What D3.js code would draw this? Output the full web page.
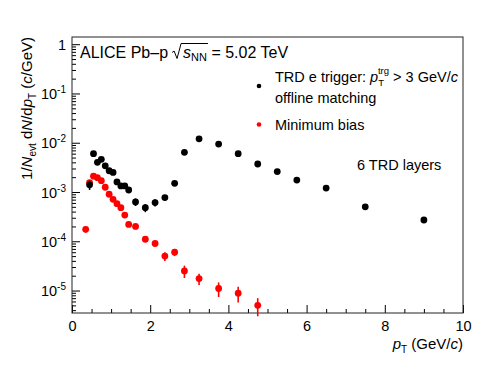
<!DOCTYPE html>
<html lang="en">
<head>
<meta charset="utf-8">
<title>TRD trigger spectra</title>
<script src="https://cdnjs.cloudflare.com/ajax/libs/d3/7.8.5/d3.min.js"></script>
<style>
body { margin: 0; background: #fff; }
svg text { font-family: "Liberation Sans", Arial, Helvetica, sans-serif; fill: #000; }
.axis path { display: none; }
.axis line { stroke: #000; }
</style>
</head>
<body>
<div id="chart"></div>
<script>

// TRD e trigger, offline matching (black)
var ptTrd = [0.45, 0.55, 0.65, 0.75, 0.85, 0.95, 1.05, 1.15, 1.25, 1.35, 1.45,
             1.625, 1.875, 2.125, 2.375, 2.625, 2.875, 3.25, 3.75, 4.25, 4.75,
             5.25, 5.75, 6.5, 7.5, 9]
var yTrd = [1.4e-3, 6.0e-3, 4.0e-3, 4.6e-3, 3.4e-3, 2.7e-3, 2.5e-3, 1.6e-3, 1.33e-3, 1.33e-3, 1.1e-3,
            6.3e-4, 4.8e-4, 6.1e-4, 7.7e-4, 1.5e-3, 6.4e-3, 1.2e-2, 9.4e-3, 6.0e-3, 3.7e-3,
            2.6e-3, 1.75e-3, 1.2e-3, 5.0e-4, 2.7e-4]
var errTrd = [3e-4, 3e-4, 2e-4, 2e-4, 1.5e-4, 1.5e-4, 1.5e-4, 1.5e-4, 1.8e-4, 1.8e-4, 1.6e-4,
              1.1e-4, 9e-5, 1e-4, 1e-4, 1e-4, 1e-4, 1.5e-4, 1.2e-4, 8e-5, 5e-5,
              4e-5, 3e-5, 2e-5, 1e-5, 6e-6]

// Minimum bias (red)
var ptMb = [0.35, 0.45, 0.55, 0.65, 0.75, 0.85, 0.95, 1.05, 1.15, 1.25, 1.35, 1.45,
            1.625, 1.875, 2.125, 2.375, 2.625, 2.875, 3.25, 3.75, 4.25, 4.75]
var yMb = [1.75e-4, 1.55e-3, 2.1e-3, 1.95e-3, 1.7e-3, 1.25e-3, 9.0e-4, 7.1e-4, 5.8e-4, 4.8e-4, 3.4e-4, 2.2e-4,
           2.0e-4, 1.1e-4, 9.0e-5, 5.0e-5, 6.0e-5, 2.5e-5, 1.75e-5, 1.1e-5, 8.8e-6, 5.0e-6]
var errMb = [2.5e-5, 6e-5, 6e-5, 6e-5, 5e-5, 4e-5, 3e-5, 3e-5, 2.5e-5, 2e-5, 1.6e-5, 1.2e-5,
             1.5e-5, 1.1e-5, 1e-5, 1e-5, 1e-5, 7e-6, 4.5e-6, 3.6e-6, 3.1e-6, 2e-6]

var xTicks = [0, 2, 4, 6, 8, 10]
var yTickExps = [0, -1, -2, -3, -4, -5]

var svgWidth = 498, svgHeight = 382
var frame = { left: 72, right: 463, top: 37, bottom: 313 }

var svg = d3.select('#chart').append('svg')
    .attr('width', svgWidth)
    .attr('height', svgHeight)

var x = d3.scaleLinear().domain([0, 10]).range([frame.left, frame.right])
var y = d3.scaleLog().domain([3.5e-6, 1.4]).range([frame.bottom, frame.top])

function drawAxes() {
    // minor x ticks every 0.5
    var xMinor = d3.range(0, 10.01, 0.5).filter(function(v) { return v % 2 != 0 })
    svg.append('g')
        .attr('class', 'axis')
        .attr('transform', 'translate(0,' + frame.bottom + ')')
        .call(d3.axisBottom(x).tickValues(xMinor).tickSizeInner(-4).tickSizeOuter(0).tickFormat(''))

    var xAxis = svg.append('g')
        .attr('class', 'axis')
        .attr('transform', 'translate(0,' + frame.bottom + ')')
        .call(d3.axisBottom(x).tickValues(xTicks).tickSizeInner(-8).tickSizeOuter(0).tickPadding(8))
    xAxis.selectAll('text').style('font-size', '14.5px')

    // log minor ticks
    var yMinor = []
    for (var k = -6; k <= 0; k++) {
        for (var m = 2; m <= 9; m++) {
            var v = m * Math.pow(10, k)
            if (v >= 3.5e-6 && v <= 1.4) yMinor.push(v)
        }
    }
    svg.append('g')
        .attr('class', 'axis')
        .attr('transform', 'translate(' + frame.left + ',0)')
        .call(d3.axisLeft(y).tickValues(yMinor).tickSizeInner(-4).tickSizeOuter(0).tickFormat(''))

    var yAxis = svg.append('g')
        .attr('class', 'axis')
        .attr('transform', 'translate(' + frame.left + ',0)')
        .call(d3.axisLeft(y).tickValues(yTickExps.map(function(e) { return Math.pow(10, e) }))
            .tickSizeInner(-8).tickSizeOuter(0).tickPadding(6))

    yAxis.selectAll('text').each(function(d, i) {
        var t = d3.select(this).text('').attr('dy', null).attr('y', 5)
            .style('font-size', '14.5px')
        var e = yTickExps[i]
        if (e == 0) {
            t.text('1')
        } else {
            t.append('tspan').text('10')
            t.append('tspan').attr('dy', -6).style('font-size', '10px').text(String(e))
        }
    })

    svg.append('rect')
        .attr('x', frame.left)
        .attr('y', frame.top)
        .attr('width', frame.right - frame.left)
        .attr('height', frame.bottom - frame.top)
        .attr('fill', 'none')
        .attr('stroke', '#222')
        .attr('stroke-width', 1)
}

function drawSeries(pts, vals, errs, colour) {
    var g = svg.append('g')
    g.selectAll('line')
        .data(pts)
        .enter().append('line')
        .attr('x1', function(d) { return x(d) })
        .attr('x2', function(d) { return x(d) })
        .attr('y1', function(d, i) { return y(vals[i] - errs[i]) })
        .attr('y2', function(d, i) { return y(vals[i] + errs[i]) })
        .attr('stroke', colour)
        .attr('stroke-width', 1.6)
    g.selectAll('circle')
        .data(pts)
        .enter().append('circle')
        .attr('cx', function(d) { return x(d) })
        .attr('cy', function(d, i) { return y(vals[i]) })
        .attr('r', 3.4)
        .attr('fill', colour)
}

function drawTitles() {
    // x title
    var xt = svg.append('text')
        .attr('x', frame.right)
        .attr('y', 349)
        .attr('text-anchor', 'end')
        .style('font-size', '15px')
    xt.append('tspan').style('font-style', 'italic').text('p')
    xt.append('tspan').attr('dy', 4).style('font-size', '10px').text('T')
    xt.append('tspan').attr('dy', -4).text(' (GeV/')
    xt.append('tspan').style('font-style', 'italic').text('c')
    xt.append('tspan').text(')')

    // y title
    var yt = svg.append('text')
        .attr('transform', 'translate(32,' + frame.top + ') rotate(-90)')
        .attr('text-anchor', 'end')
        .style('font-size', '15px')
    yt.append('tspan').text('1/')
    yt.append('tspan').style('font-style', 'italic').text('N')
    yt.append('tspan').attr('dy', 4).style('font-size', '10px').text('evt')
    yt.append('tspan').attr('dy', -4).text(' d')
    yt.append('tspan').style('font-style', 'italic').text('N')
    yt.append('tspan').text('/d')
    yt.append('tspan').style('font-style', 'italic').text('p')
    yt.append('tspan').attr('dy', 4).style('font-size', '10px').text('T')
    yt.append('tspan').attr('dy', -4).text(' (')
    yt.append('tspan').style('font-style', 'italic').text('c')
    yt.append('tspan').text('/GeV)')

    // header
    var hx = 80, hy = 57.5
    var ht = svg.append('text')
        .attr('x', hx)
        .attr('y', hy)
        .style('font-size', '16px')
    ht.append('tspan').text('ALICE Pb\u2013p')
    ht.append('tspan').attr('dx', 15).style('font-style', 'italic').text('s')
    ht.append('tspan').attr('dy', 3).style('font-size', '11px').text('NN')
    ht.append('tspan').attr('dy', -3).text(' = 5.02 TeV')
    var node = ht.node()
    var sx = node.getStartPositionOfChar(10).x
    var ex = node.getEndPositionOfChar(12).x
    svg.append('path')
        .attr('d', 'M' + (sx - 11) + ',' + (hy - 5) + 'L' + (sx - 9) + ',' + (hy - 6.5) +
              'L' + (sx - 6) + ',' + (hy + 1) + 'L' + (sx - 2) + ',' + (hy - 14) +
              'L' + (ex + 1) + ',' + (hy - 14))
        .attr('fill', 'none')
        .attr('stroke', '#000')
        .attr('stroke-width', 1)
}

function drawLegend() {
    svg.append('circle').attr('cx', 259).attr('cy', 86).attr('r', 2.3).attr('fill', 'black')
    var l1 = svg.append('text').attr('x', 275).attr('y', 82).style('font-size', '14.5px')
    l1.append('tspan').text('TRD e trigger: ')
    l1.append('tspan').style('font-style', 'italic').text('p')
    l1.append('tspan').attr('dy', 4).style('font-size', '9.5px').text('T')
    l1.append('tspan').attr('dx', -6).attr('dy', -12).style('font-size', '9.5px').text('trg')
    l1.append('tspan').attr('dy', 8).text(' > 3 GeV/')
    l1.append('tspan').style('font-style', 'italic').text('c')
    svg.append('text').attr('x', 275).attr('y', 102.5).style('font-size', '14.5px')
        .text('offline matching')

    svg.append('circle').attr('cx', 259).attr('cy', 124.5).attr('r', 2.3).attr('fill', 'red')
    svg.append('text').attr('x', 275).attr('y', 129.5).style('font-size', '14.5px')
        .text('Minimum bias')

    svg.append('text').attr('x', 357).attr('y', 170).style('font-size', '14.5px')
        .text('6 TRD layers')
}

drawAxes()
drawSeries(ptMb, yMb, errMb, 'red')
drawSeries(ptTrd, yTrd, errTrd, 'black')
drawTitles()
drawLegend()

</script>
</body>
</html>
